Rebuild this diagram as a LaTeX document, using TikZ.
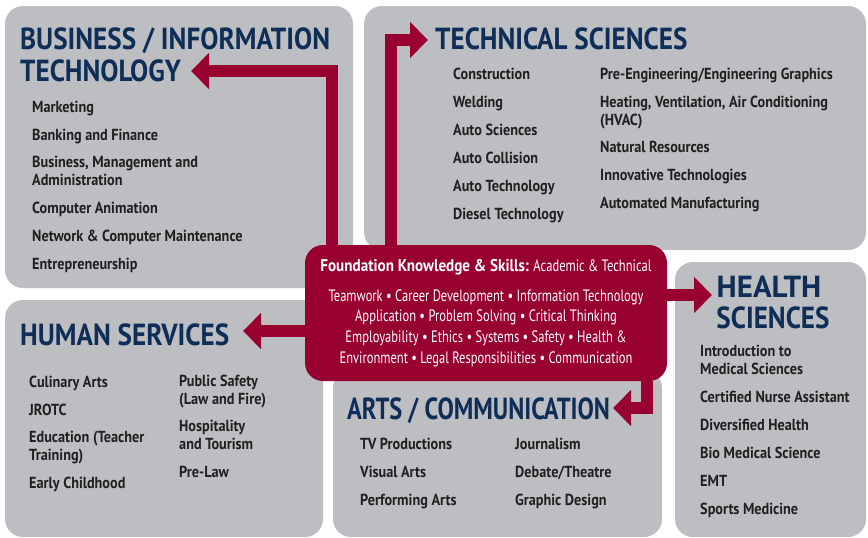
\documentclass[tikz,border=0pt]{standalone}
\usepackage{graphicx}
\usepackage{fontspec}
\setmainfont{PT Sans}[FakeStretch=0.76, BoldFeatures={FakeStretch=0.89}]
\usetikzlibrary{arrows.meta}

\definecolor{panelgray}{RGB}{189,190,193}
\definecolor{crimson}{RGB}{152,0,48}
\definecolor{navy}{RGB}{14,46,88}
\definecolor{inkgray}{RGB}{35,31,32}

\begin{document}
\begin{tikzpicture}[x=1pt,y=-1pt,
  panel/.style={fill=panelgray, rounded corners=18pt},
  ttl/.style={anchor=base west, inner sep=0pt, text=navy,
    font=\bfseries\fontsize{30.5}{30.5}\selectfont},
  item/.style={anchor=base west, inner sep=0pt, align=left, text=inkgray,
    font=\bfseries\fontsize{16}{17.5}\selectfont},
  fksbox/.style={fill=crimson, rounded corners=18pt, inner sep=0pt,
    minimum width=362pt, minimum height=136pt, text=white, align=center,
    font=\fontsize{16.5}{20.7}\selectfont},
  flow/.style={draw=crimson, line width=12.5pt,
    -{Triangle[length=18pt,width=35pt]}}]
  \useasboundingbox (0,0) rectangle (868,538);

  % the five pathway panels
  \fill[panel] (5,6) rectangle (353,288);
  \fill[panel] (364,6) rectangle (866,250);
  \fill[panel] (5,300) rectangle (323,537);
  \fill[panel] (333,370) rectangle (662,537);
  \fill[panel] (675,262) rectangle (866,537);

  % panel titles
  \node[ttl] (bizA) at (20,49) {BUSINESS / INFORMATION};
  \node[ttl] (bizB) at (20,81) {TECHNOLOGY};
  \node[ttl] (tech) at (435,49) {TECHNICAL SCIENCES};
  \node[ttl] (hum) at (20,345) {HUMAN SERVICES};
  \node[ttl] (arts) at (347,419) {\scalebox{0.9}[1]{ARTS / COMMUNICATION}};
  \node[ttl,anchor=base] (hlthA) at (769,297) {\scalebox{1.14}[1]{HEALTH}};
  \node[ttl,anchor=base] (hlthB) at (773,328) {SCIENCES};

  % business / information technology (multi-line items sit on their last line)
  \node[item] (biz1) at (32,112) {Marketing};
  \node[item] (biz2) at (32,140) {Banking and Finance};
  \node[item] (biz3) at (32,185) {Business, Management and\\Administration};
  \node[item] (biz4) at (32,213) {Computer Animation};
  \node[item] (biz5) at (32,241) {Network \& Computer Maintenance};
  \node[item] (biz6) at (32,269) {Entrepreneurship};

  % technical sciences, left column
  \foreach \t [count=\i from 0] in {Construction, Welding, Auto Sciences,
      Auto Collision, Auto Technology, Diesel Technology} {
    \pgfmathsetmacro\y{79 + 28*\i}
    \node[item] (techL\i) at (453,\y) {\t};
  }
  % technical sciences, right column
  \node[item] (techR1) at (600,79) {Pre-Engineering/Engineering Graphics};
  \node[item] (techR2) at (600,125) {Heating, Ventilation, Air Conditioning\\(HVAC)};
  \node[item] (techR3) at (600,152) {Natural Resources};
  \node[item] (techR4) at (600,180) {Innovative Technologies};
  \node[item] (techR5) at (600,208) {Automated Manufacturing};

  % human services
  \node[item] (hum1) at (29,387) {Culinary Arts};
  \node[item] (hum2) at (29,415) {JROTC};
  \node[item] (hum3) at (29,460) {Education (Teacher\\Training)};
  \node[item] (hum4) at (29,488) {Early Childhood};
  \node[item] (hum5) at (179,404) {Public Safety\\(Law and Fire)};
  \node[item] (hum6) at (179,449) {Hospitality\\and Tourism};
  \node[item] (hum7) at (179,477) {Pre-Law};

  % arts / communication
  \foreach \t/\u [count=\i from 0] in {TV Productions/Journalism,
      Visual Arts/Debate\slash Theatre, Performing Arts/Graphic Design} {
    \pgfmathsetmacro\y{449 + 28*\i}
    \node[item] (artsL\i) at (360,\y) {\t};
    \node[item] (artsR\i) at (515,\y) {\u};
  }

  % health sciences
  \node[item] (hlth1) at (700,374) {Introduction to\\Medical Sciences};
  \node[item] (hlth2) at (700,402) {Certified Nurse Assistant};
  \node[item] (hlth3) at (700,430) {Diversified Health};
  \node[item] (hlth4) at (700,458) {Bio Medical Science};
  \node[item] (hlth5) at (700,486) {EMT};
  \node[item] (hlth6) at (700,514) {Sports Medicine};

  % foundation box in the middle
  \node[fksbox] (fks) at (486,313) {%
    {\bfseries\fontsize{17}{20.7}\selectfont Foundation Knowledge \& Skills:} Academic \& Technical\\[9pt]
    Teamwork \textbullet{} Career Development \textbullet{} Information Technology\\
    Application \textbullet{} Problem Solving \textbullet{} Critical Thinking\\
    Employability \textbullet{} Ethics \textbullet{} Systems \textbullet{} Safety \textbullet{} Health \&\\
    Environment \textbullet{} Legal Responsibilities \textbullet{} Communication};

  % arrows out to the pathways
  \coordinate (bizBend) at (332,71);
  \coordinate (bizTip) at (191,71);
  \coordinate (techBend) at (391,40);
  \coordinate (techTip) at (428,40);
  \coordinate (humTip) at (243,331);
  \coordinate (hlthTip) at (712,295);
  \coordinate (artsBend) at (647,408);
  \coordinate (artsTip) at (613,408);

  \draw[flow] (fks.north -| bizBend) -- (bizBend) -- (bizTip);
  \draw[flow] (fks.north -| techBend) -- (techBend) -- (techTip);
  \draw[flow] (fks.west |- humTip) -- (humTip);
  \draw[flow] (fks.east |- hlthTip) -- (hlthTip);
  \draw[flow] (fks.south -| artsBend) -- (artsBend) -- (artsTip);
\end{tikzpicture}
\end{document}
